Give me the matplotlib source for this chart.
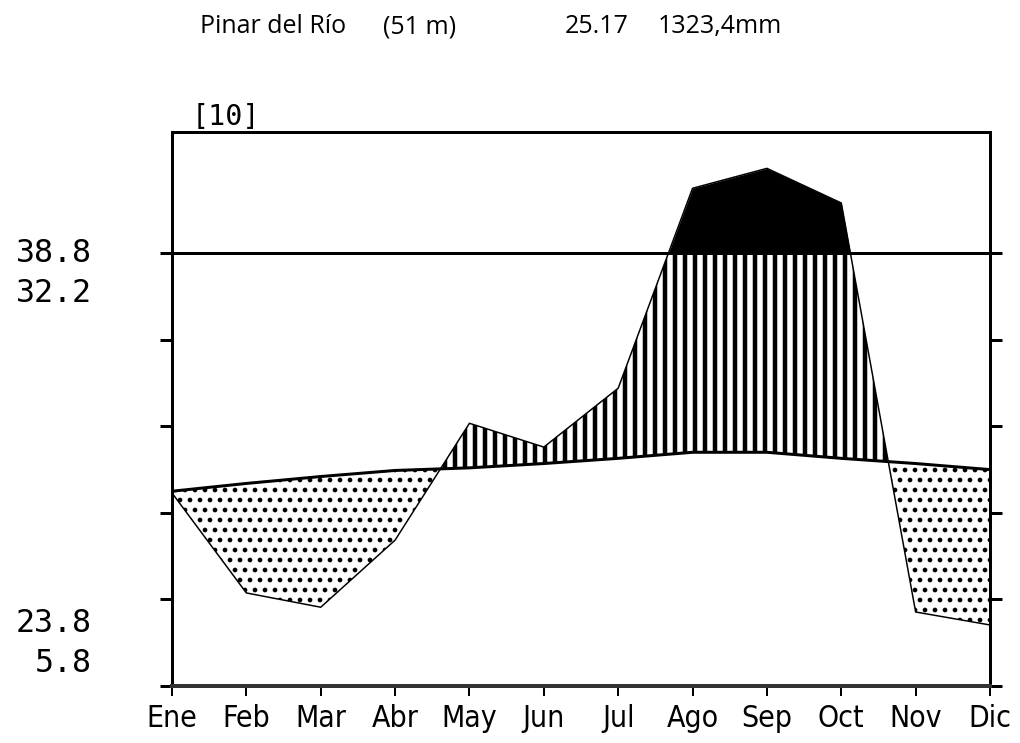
import numpy as np
import matplotlib.pyplot as plt

# climate diagram data (Walter-Lieth style)
months = ["Ene", "Feb", "Mar", "Abr", "May", "Jun",
          "Jul", "Ago", "Sep", "Oct", "Nov", "Dic"]
temp = [22.5, 23.4, 24.2, 24.9, 25.2, 25.7, 26.3, 27.0, 27.0, 26.3, 25.7, 25.0]
prec = [44.6, 21.5, 18.2, 33.7, 60.7, 55.2, 68.8, 250.0, 296.0, 216.0, 17.1, 14.1]
left_top = ["38.8", "32.2"]
left_bottom = ["23.8", "5.8"]
station = "Pinar del Río"
altitude = "(51 m)"
mean_temp = "25.17"
total_prec = "1323,4mm"
years = "[10]"


def prec_scale(p):
    # 10 C = 20 mm below 100 mm, compressed 1:10 above
    p = np.asarray(p, dtype=float)
    return np.where(p <= 100, p / 2.0, 50 + (p - 100) / 20.0)


x = np.arange(len(months))
t = np.array(temp)
p = prec_scale(prec)

# fine grid of the polylines so the fills follow the lines
xf = np.linspace(0, 11, 2201)
tf = np.interp(xf, x, t)
pf = np.interp(xf, x, p)

fig = plt.figure(figsize=(8.5, 743 / 120), dpi=120)
ax = fig.add_axes([172 / 1020, 1 - 686 / 743, 818 / 1020, 554 / 743])

# dry period: dots
plt.rcParams['hatch.linewidth'] = 1.6
ax.fill_between(xf, pf, tf, where=tf >= pf, interpolate=True,
                facecolor='white', edgecolor='black', hatch='..', linewidth=0)

# humid period: vertical lines
plt.rcParams['hatch.linewidth'] = 2.7
ax.fill_between(xf, tf, np.minimum(pf, 50), where=pf >= tf, interpolate=True,
                facecolor='white', edgecolor='black', hatch='||', linewidth=0)

# above 100 mm: solid black
ax.fill_between(xf, 50, pf, where=pf >= 50, interpolate=True,
                facecolor='black', edgecolor='black', linewidth=0)

ax.plot(x, p, color='black', lw=0.9)
ax.plot(x, t, color='black', lw=1.8)
ax.axhline(50, color='black', lw=1.8)

ax.set_xlim(0, 11)
ax.set_ylim(0, 64)
ax.set_xticks(x)
ax.set_xticklabels(months, family='DejaVu Sans', fontstretch='condensed',
                   fontsize=18)
ax.set_yticks(np.arange(0, 51, 10))
ax.set_yticklabels([])
ax.tick_params(axis='y', direction='out', length=7, width=1.8,
               left=True, right=True)
ax.tick_params(axis='x', direction='out', length=6, width=1.2, pad=5)
for side in ['left', 'right', 'top']:
    ax.spines[side].set_linewidth(1.8)
ax.spines['bottom'].set_linewidth(2.4)
ax.spines['bottom'].set_color('#333333')

mono = 'DejaVu Sans Mono'
fig.text(92 / 1020, 1 - 254 / 743, left_top[0], ha='right', va='center',
         family=mono, fontsize=19)
fig.text(92 / 1020, 1 - 294 / 743, left_top[1], ha='right', va='center',
         family=mono, fontsize=19)
fig.text(92 / 1020, 1 - 623 / 743, left_bottom[0], ha='right', va='center',
         family=mono, fontsize=19)
fig.text(92 / 1020, 1 - 663 / 743, left_bottom[1], ha='right', va='center',
         family=mono, fontsize=19)
fig.text(192 / 1020, 1 - 117 / 743, years, ha='left', va='center',
         family=mono, fontsize=17)

# header
hfont = dict(ha='left', va='baseline', fontsize=15, family='Open Sans')
fig.text(200 / 1020, 1 - 33 / 743, station, **hfont)
fig.text(383 / 1020, 1 - 33 / 743, altitude, **hfont)
fig.text(565 / 1020, 1 - 33 / 743, mean_temp, **hfont)
fig.text(658 / 1020, 1 - 33 / 743, total_prec, **hfont)

fig.savefig('out.png', dpi=120)
